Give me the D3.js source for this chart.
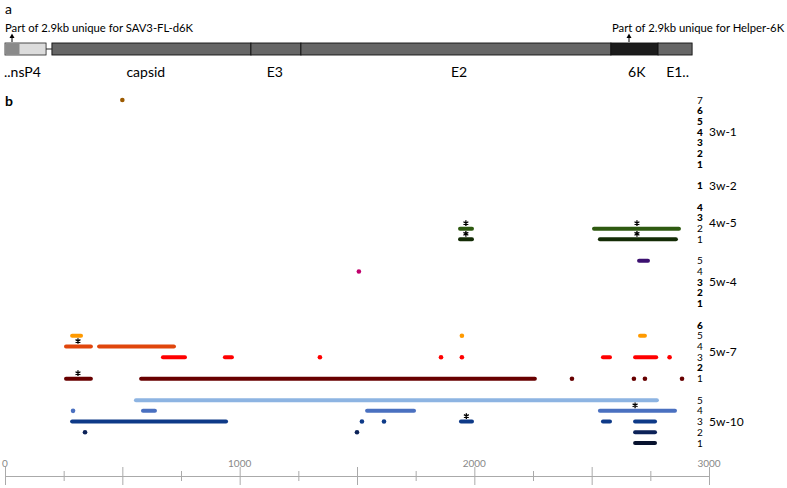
<!DOCTYPE html>
<html>
<head>
<meta charset="utf-8">
<script src="https://cdn.jsdelivr.net/npm/d3@7"></script>
<style>
html,body{margin:0;padding:0;background:#fff;}
svg{display:block;}
text{font-family:Lato,"Open Sans",sans-serif;}
</style>
</head>
<body>
<svg id="chart" width="787" height="488"></svg>
<script>
// ---------- DATA ----------
// gene map (positions in nt on the same scale as the bottom axis)
const geneNames = ["capsid", "E3", "E2", "6K", "E1.."];
const geneStarts = [200, 1048, 1261, 2582, 2783];
const geneEnds   = [1048, 1261, 2582, 2783, 2928];
const nsP4Range = [0, 175];
const nsP4Dark  = [0, 60];
const geneLabelPos = [600, 1150, 1935, 2692, 2866];

// groups of clones and number of rows
const groups = ["3w-1", "3w-2", "4w-5", "5w-4", "5w-7", "5w-10"];
const groupRows = [7, 1, 4, 5, 6, 5];

// reads: [row, start, end]  (start === end -> single point)
const reads_3w1 = [[7, 500, 500]];
const reads_3w2 = [];
const reads_4w5 = [[2, 1939, 1990], [2, 2510, 2872], [1, 1939, 1990], [1, 2535, 2859]];
const reads_5w4 = [[5, 2702, 2740], [4, 1508, 1508]];
const reads_5w7 = [
  [5, 286, 324], [5, 1947, 1947], [5, 2706, 2727],
  [4, 260, 366], [4, 401, 720],
  [3, 673, 767], [3, 937, 967], [3, 1342, 1342], [3, 1858, 1858], [3, 1947, 1947],
  [3, 2548, 2578], [3, 2685, 2775], [3, 2832, 2832],
  [1, 260, 366], [1, 580, 2258], [1, 2416, 2416], [1, 2680, 2680], [1, 2727, 2727], [1, 2885, 2885]
];
const reads_5w10 = [
  [5, 558, 2778],
  [4, 290, 290], [4, 588, 639], [4, 1543, 1743], [4, 2535, 2855],
  [3, 286, 942], [3, 1521, 1521], [3, 1615, 1615], [3, 1943, 1990], [3, 2548, 2578], [3, 2685, 2770],
  [2, 341, 341], [2, 1500, 1500], [2, 2685, 2770],
  [1, 2685, 2770]
];
const readsByGroup = [reads_3w1, reads_3w2, reads_4w5, reads_5w4, reads_5w7, reads_5w10];

// asterisks: [groupIndex, row, position]
const stars = [[2, 2, 1964], [2, 2, 2693], [2, 1, 1964], [2, 1, 2693],
               [4, 4, 311], [4, 1, 311], [5, 4, 2685], [5, 3, 1966]];

// axis ticks
const axisTicks = [0, 250, 500, 750, 1000, 1250, 1500, 1750, 2000, 2250, 2500, 2750, 3000];
const axisLabels = [0, 1000, 2000, 3000];

// ---------- STYLES ----------
const rowColors = {
  "3w-1": {7: "#9c5a00"},
  "4w-5": {2: "#2e5a10", 1: "#142c06"},
  "5w-4": {5: "#3c1070", 4: "#c0006c"},
  "5w-7": {5: "#ff9a00", 4: "#e0460c", 3: "#ff0000", 1: "#680000"},
  "5w-10": {5: "#8db4e2", 4: "#4a70c0", 3: "#0e3a88", 2: "#0c2258", 1: "#08122e"}
};

// ---------- DRAW ----------
const svg = d3.select("#chart");
const x = d3.scaleLinear().domain([0, 3000]).range([5, 709]);

// slot layout
const slots = [];
let s = 0;
groups.forEach((g, gi) => {
  for (let r = groupRows[gi]; r >= 1; r--) { slots.push({g, gi, r, slot: s}); s++; }
  s++;
});
const maxSlot = slots[slots.length - 1].slot;
const y = d3.scaleLinear().domain([0, maxSlot]).range([100, 443]);
const slotOf = (gi, r) => slots.find(d => d.gi === gi && d.r === r).slot;

// ----- panel a -----
svg.append("text").attr("x", 5).attr("y", 14).attr("font-size", 14).text("a");
svg.append("text").attr("x", 5).attr("y", 106).attr("font-size", 14).attr("font-weight", "bold").text("b");

const barY = 43, barH = 12;
// nsP4 box
svg.append("rect").attr("x", x(nsP4Range[0])).attr("y", barY)
  .attr("width", x(nsP4Range[1]) - x(nsP4Range[0])).attr("height", barH)
  .attr("fill", "#dcdcdc").attr("stroke", "#222").attr("stroke-width", 0.8);
svg.append("rect").attr("x", x(nsP4Dark[0]) + 0.4).attr("y", barY + 0.4)
  .attr("width", x(nsP4Dark[1]) - x(nsP4Dark[0])).attr("height", barH - 0.8)
  .attr("fill", "#8a8a8a");
svg.append("line").attr("x1", x(nsP4Range[1])).attr("x2", x(geneStarts[0]))
  .attr("y1", barY + barH / 2).attr("y2", barY + barH / 2).attr("stroke", "#222").attr("stroke-width", 1);
svg.selectAll("rect.gene").data(geneNames).enter().append("rect").attr("class", "gene")
  .attr("x", (d, i) => x(geneStarts[i])).attr("y", barY)
  .attr("width", (d, i) => x(geneEnds[i]) - x(geneStarts[i])).attr("height", barH)
  .attr("fill", d => d === "6K" ? "#1c1c1c" : "#666666")
  .attr("stroke", "#111").attr("stroke-width", 0.9);

svg.append("text").attr("x", 4).attr("y", 77).attr("font-size", 14).text("..nsP4");
svg.selectAll("text.gname").data(geneNames).enter().append("text").attr("class", "gname")
  .attr("x", (d, i) => x(geneLabelPos[i])).attr("y", 77).attr("font-size", 14)
  .attr("text-anchor", "middle").text(d => d);

// annotations with arrows
function arrow(px) {
  svg.append("line").attr("x1", px).attr("x2", px).attr("y1", 37).attr("y2", 42)
    .attr("stroke", "#000").attr("stroke-width", 1);
  svg.append("path").attr("d", `M${px - 2.5},38 L${px},33.5 L${px + 2.5},38 Z`).attr("fill", "#000");
}
svg.append("text").attr("x", 5).attr("y", 32).attr("font-size", 11.3).text("Part of 2.9kb unique for SAV3-FL-d6K");
arrow(12);
svg.append("text").attr("x", 612).attr("y", 32).attr("font-size", 11.3).text("Part of 2.9kb unique for Helper-6K");
arrow(629);

// ----- panel b: reads -----
readsByGroup.forEach((reads, gi) => {
  const g = groups[gi];
  const gsel = svg.append("g");
  gsel.selectAll("line").data(reads.filter(d => d[1] !== d[2])).enter().append("line")
    .attr("x1", d => x(d[1])).attr("x2", d => x(d[2]))
    .attr("y1", d => y(slotOf(gi, d[0]))).attr("y2", d => y(slotOf(gi, d[0])))
    .attr("stroke", d => rowColors[g][d[0]]).attr("stroke-width", 4)
    .attr("stroke-linecap", "round");
  gsel.selectAll("circle").data(reads.filter(d => d[1] === d[2])).enter().append("circle")
    .attr("cx", d => x(d[1])).attr("cy", d => y(slotOf(gi, d[0]))).attr("r", 2.3)
    .attr("fill", d => rowColors[g][d[0]]);
});

// asterisks as symbols
const starSym = d3.symbol().type(d3.symbolAsterisk).size(22);
svg.selectAll("path.star").data(stars).enter().append("path").attr("class", "star")
  .attr("transform", d => `translate(${x(d[2])},${y(slotOf(d[0], d[1])) - 5.5})`)
  .attr("d", starSym).attr("fill", "none").attr("stroke", "#000").attr("stroke-width", 1.3);

// row numbers
svg.selectAll("text.rownum").data(slots).enter().append("text").attr("class", "rownum")
  .attr("x", 700).attr("y", d => y(d.slot) + 3.5).attr("text-anchor", "middle")
  .attr("font-size", 10)
  .attr("font-weight", d => readsByGroup[d.gi].some(r => r[0] === d.r) ? "normal" : "900")
  .text(d => d.r);

// group labels
svg.selectAll("text.glab").data(groups).enter().append("text").attr("class", "glab")
  .attr("x", 709)
  .attr("y", (g, gi) => {
    const ss = slots.filter(d => d.gi === gi).map(d => y(d.slot));
    return (d3.min(ss) + d3.max(ss)) / 2 + 4;
  })
  .attr("font-size", 12).text(d => d);

// ----- axis -----
const axisY = 476;
const axis = svg.append("g").attr("transform", `translate(0,${axisY})`)
  .call(d3.axisBottom(x).tickValues(axisTicks).tickSize(0).tickFormat(""));
axis.select(".domain").attr("stroke", "#aaa").attr("stroke-width", 1.2);
axis.selectAll(".tick line").attr("stroke", "#aaa").attr("stroke-width", 1)
  .attr("y1", d => d % 500 === 0 ? -9 : -5).attr("y2", d => d % 500 === 0 ? 9 : 5);
svg.selectAll("text.axl").data(axisLabels).enter().append("text").attr("class", "axl")
  .attr("x", d => x(d)).attr("y", 467).attr("text-anchor", "middle")
  .attr("font-family", "'Liberation Sans Narrow','DejaVu Sans Condensed',sans-serif")
  .attr("font-size", 10).attr("fill", "#888").text(d => d);
</script>
</body>
</html>
